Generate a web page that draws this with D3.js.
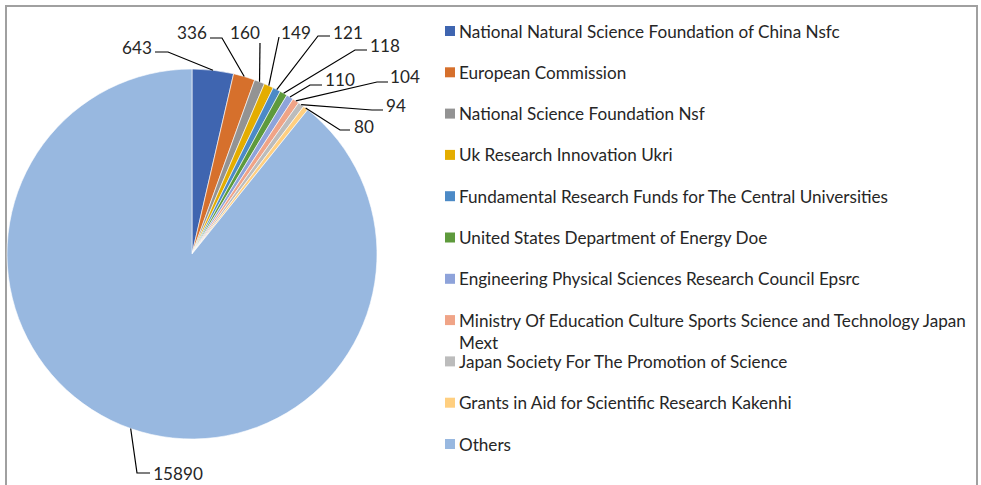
<!DOCTYPE html>
<html>
<head>
<meta charset="utf-8">
<script src="https://d3js.org/d3.v7.min.js"></script>
<style>
  body { margin: 0; background: #fff; }
  text { font-family: Lato, "Open Sans", sans-serif; fill: #262626; }
</style>
</head>
<body>
<svg id="chart" width="981" height="485"></svg>
<script>
// funders and counts
const funders = [
  "National Natural Science Foundation of China Nsfc",
  "European Commission",
  "National Science Foundation Nsf",
  "Uk Research Innovation Ukri",
  "Fundamental Research Funds for The Central Universities",
  "United States Department of Energy Doe",
  "Engineering Physical Sciences Research Council Epsrc",
  "Ministry Of Education Culture Sports Science and Technology Japan Mext",
  "Japan Society For The Promotion of Science",
  "Grants in Aid for Scientific Research Kakenhi",
  "Others"
];
const counts = [643, 336, 160, 149, 121, 118, 110, 104, 94, 80, 15890];
const colors = ["#3f65b0", "#d6702c", "#939393", "#e4ad00", "#4c8ac6", "#5e9a3c",
                "#8ea3da", "#f0a487", "#bcbcbc", "#ffcf80", "#98b8e0"];

// where the data labels sit (Excel placed them by hand), plus the elbow of each leader
const labelPos = [
  [137, 47], [192, 32], [245, 32], [296, 32], [348, 32], [385, 45],
  [340, 79], [405, 76], [396, 105], [364, 126], [178, 473]
];
const elbows = [
  [[155, 52], [168, 52]], [[210, 38], [222, 38]], [[260, 43]], [[279, 37]],
  [[330, 36], [318, 36]], [[367, 50], [355, 50]], [[322, 85], [310, 85]],
  [[388, 82], [377, 82]], [[383, 110], [372, 110]], [[350, 130], [340, 130]],
  [[150, 473], [137, 473]]
];

const svg = d3.select("#chart");
const data = funders.map((f, i) => ({ name: f, value: counts[i], color: colors[i] }));

// chart frame (bottom edge is cut off in the picture)
svg.append("path")
  .attr("d", "M6,492V6H977V492")
  .attr("fill", "none")
  .attr("stroke", "#a0a0a0")
  .attr("stroke-width", 2);

// pick a font size so the legend text has the same width as the original
const probe = svg.append("text").style("font-size", "16px").text(funders[0]);
const fs = 16 * 381 / probe.node().getComputedTextLength();
probe.remove();

const cx = 192, cy = 254, r = 185;
const pie = d3.pie().value(d => d.value).sort(null);
const arc = d3.arc().innerRadius(0).outerRadius(r);
const arcs = pie(data);

const g = svg.append("g").attr("transform", `translate(${cx},${cy})`);
g.selectAll("path.slice")
  .data(arcs)
  .enter().append("path")
    .attr("class", "slice")
    .attr("d", arc)
    .attr("fill", d => d.data.color)
    .attr("stroke", "#fff")
    .attr("stroke-width", 0.6);

// leader lines: label -> elbow -> outer edge of the slice at its middle angle
const line = d3.line();
arcs.forEach((a, i) => {
  const mid = (a.startAngle + a.endAngle) / 2;
  const anchor = [cx + r * Math.sin(mid), cy - r * Math.cos(mid)];
  svg.append("path")
    .attr("d", line(elbows[i].concat([anchor])))
    .attr("fill", "none")
    .attr("stroke", "#000")
    .attr("stroke-width", 1.2);
  svg.append("text")
    .attr("x", labelPos[i][0])
    .attr("y", labelPos[i][1])
    .attr("text-anchor", "middle")
    .attr("dominant-baseline", "central")
    .style("font-size", fs + "px")
    .text(a.data.value);
});

// legend
const ly = d3.scaleLinear().domain([0, 10]).range([31, 444]);
const leg = svg.append("g").selectAll("g")
  .data(data).enter().append("g")
    .attr("transform", (d, i) => `translate(445,${ly(i)})`);
leg.append("rect")
  .attr("x", 0).attr("y", -5)
  .attr("width", 10).attr("height", 10)
  .attr("fill", d => d.color);
leg.append("text")
  .attr("x", 14)
  .attr("dominant-baseline", "central")
  .style("font-size", fs + "px")
  .each(function(d) {
    const t = d3.select(this);
    // the long Mext name wraps in the original
    if (d.name.endsWith(" Mext")) {
      t.append("tspan").attr("x", 14).attr("y", 0).text(d.name.replace(/ Mext$/, ""));
      t.append("tspan").attr("x", 14).attr("y", 22).text("Mext");
    } else {
      t.text(d.name);
    }
  });
</script>
</body>
</html>
